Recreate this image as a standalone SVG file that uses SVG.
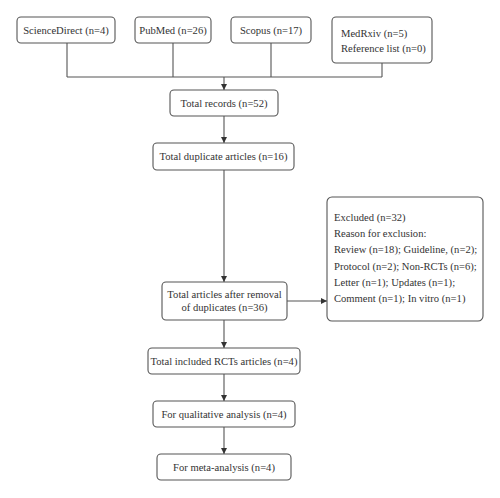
<svg xmlns="http://www.w3.org/2000/svg" width="500" height="498" viewBox="0 0 500 498">
<defs>
<marker id="arr" markerWidth="6" markerHeight="6" refX="6" refY="3" orient="auto" markerUnits="userSpaceOnUse">
<path d="M0,0 L6,3 L0,6 Z" fill="#333"/>
</marker>
<style>
.box{fill:#fff;stroke:#555;stroke-width:1.1}
.t{font-family:"Liberation Serif","Times New Roman",serif;font-size:10.6px;fill:#333}
.c{text-anchor:middle}
.ln{fill:none;stroke:#555;stroke-width:1.1}
</style>
</defs>
<rect width="500" height="498" fill="#fff"/>
<g id="connectors">
<path class="ln" d="M67,43 V77 M173,43 V77 M271,43 V77 M382,63 V77 M67,77 H382"/>
<path class="ln" d="M224,77 V90" marker-end="url(#arr)"/>
<path class="ln" d="M224,116 V143" marker-end="url(#arr)"/>
<path class="ln" d="M224,170 V282" marker-end="url(#arr)"/>
<path class="ln" d="M287,301 H327" marker-end="url(#arr)"/>
<path class="ln" d="M224,320 V348" marker-end="url(#arr)"/>
<path class="ln" d="M224,374 V401" marker-end="url(#arr)"/>
<path class="ln" d="M224,427 V454" marker-end="url(#arr)"/>
</g>
<g id="sciencedirect"><rect class="box" x="17" y="17" width="98" height="26" rx="4"/><text class="t c" x="66" y="34">ScienceDirect (n=4)</text></g>
<g id="pubmed"><rect class="box" x="135" y="17" width="76" height="26" rx="4"/><text class="t c" x="173" y="34">PubMed (n=26)</text></g>
<g id="scopus"><rect class="box" x="231" y="17" width="80" height="26" rx="4"/><text class="t c" x="271" y="34">Scopus (n=17)</text></g>
<g id="medrxiv"><rect class="box" x="332" y="17" width="100" height="46" rx="4"/><text class="t" x="341" y="37">MedRxiv (n=5)</text><text class="t" x="341" y="52">Reference list (n=0)</text></g>
<g id="total-records"><rect class="box" x="170" y="90" width="108" height="26" rx="4"/><text class="t c" x="224" y="107">Total records (n=52)</text></g>
<g id="duplicates"><rect class="box" x="153" y="143" width="141" height="27" rx="4"/><text class="t c" x="223.5" y="160">Total duplicate articles (n=16)</text></g>
<g id="after-removal"><rect class="box" x="162" y="282" width="125" height="38" rx="4"/><text class="t c" x="224.5" y="298">Total articles after removal</text><text class="t c" x="224.5" y="311">of duplicates (n=36)</text></g>
<g id="excluded"><rect class="box" x="327" y="197" width="156" height="124" rx="5"/>
<text class="t" x="334" y="221">Excluded (n=32)</text>
<text class="t" x="334" y="237">Reason for exclusion:</text>
<text class="t" x="334" y="253">Review (n=18); Guideline, (n=2);</text>
<text class="t" x="334" y="269.5">Protocol (n=2); Non-RCTs (n=6);</text>
<text class="t" x="334" y="285.5">Letter (n=1); Updates (n=1);</text>
<text class="t" x="334" y="301.5">Comment (n=1); In vitro (n=1)</text></g>
<g id="included"><rect class="box" x="148" y="348" width="152" height="26" rx="4"/><text class="t c" x="224" y="365">Total included RCTs articles (n=4)</text></g>
<g id="qualitative"><rect class="box" x="153" y="401" width="142" height="26" rx="4"/><text class="t c" x="224" y="418">For qualitative analysis (n=4)</text></g>
<g id="meta"><rect class="box" x="157" y="454" width="134" height="26" rx="4"/><text class="t c" x="224" y="471">For meta-analysis (n=4)</text></g>
</svg>
